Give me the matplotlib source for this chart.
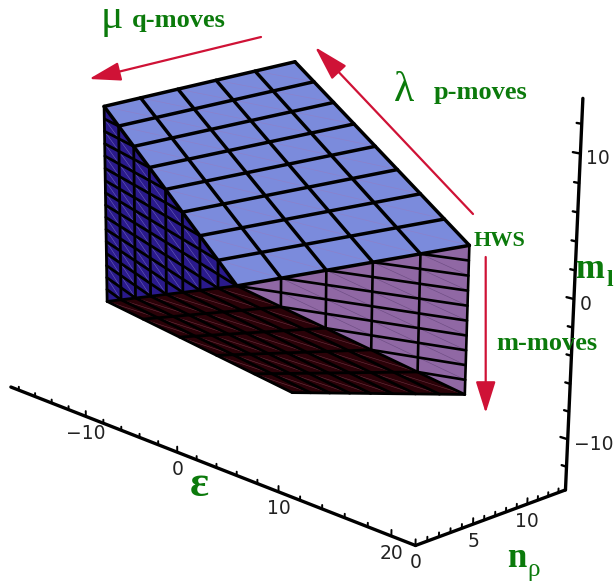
import numpy as np
import matplotlib
matplotlib.use("Agg")
import matplotlib.pyplot as plt
from matplotlib.patches import Polygon

# SU(3) multiplet (lambda, mu) shown in (epsilon, n_rho, m_l) space
LAM = 8
MU = 5
A_MIN = MU
A_MAX = MU + LAM
B_MIN = 0
B_MAX = MU

eps_majors = [-10, 0, 10, 20]
eps_minors = [-18, -16, -14, -12, -8, -6, -4, -2, 2, 4, 6, 8, 12, 14, 16, 18]
nrho_majors = [0, 5, 10]
nrho_minors = [1, 2, 3, 4, 6, 7, 8, 9, 11, 12, 13]
ml_majors = [-10, 0, 10]
ml_minors = [-12, -8, -6, -4, -2, 2, 4, 6, 8, 12]
EPS_BOX = (-19.0, 22.0)
NRHO_BOX = (0.0, 13.7)
ML_BOX = (-13.7, 13.7)

# Camera calibration: known (eps, nrho, ml) positions and where they sit on the page
calib_world = [(-18, 8, 8), (-3, 13, 13), (21, 5, 5), (6, 0, 0), (-18, 8, -8), (21, 5, -5), (-3, 13, -13),
               (-18, 0, -13.7), (-10, 0, -13.7), (0, 0, -13.7), (10, 0, -13.7), (20, 0, -13.7), (22, 0, -13.7),
               (22, 5, -13.7), (22, 10, -13.7), (22, 13.7, -13.7),
               (22, 13.7, -10), (22, 13.7, 0), (22, 13.7, 10), (22, 13.7, 12), (22, 13.7, 13.7)]
calib_page = [(104, 107), (295, 61), (471, 247), (238, 287), (108, 302), (466, 396), (293, 393),
              (18.3, 389.5), (85, 415.8), (176.7, 451.8), (277.7, 491.3), (390.7, 535.5), (415, 545),
              (474, 523.6), (528, 504), (565, 490.7),
              (567.3, 439.3), (573.6, 299.3), (580.2, 152.7), (581.0, 122.7), (581.8, 98)]


def fit_camera(world, page):
    rows = []
    for (x, y, z), (u, v) in zip(world, page):
        rows.append([x, y, z, 1, 0, 0, 0, 0, -u * x, -u * y, -u * z, -u])
        rows.append([0, 0, 0, 0, x, y, z, 1, -v * x, -v * y, -v * z, -v])
    _, _, vt = np.linalg.svd(np.array(rows, float))
    return vt[-1].reshape(3, 4)


CAM = fit_camera(calib_world, calib_page)


def proj(e, n, m):
    h = CAM @ np.array([e, n, m, 1.0])
    return h[0] / h[2], h[1] / h[2]


def eps_of(a, b):
    return 36 - 3 * (a + b)


def pt(a, b, m):
    return proj(eps_of(a, b), a - b, m)


fig = plt.figure(figsize=(6.15, 5.83), dpi=100)
ax = fig.add_axes([0, 0, 1, 1])
ax.set_xlim(0, 615)
ax.set_ylim(583, 0)
ax.axis("off")

TOP = "#7b8bdc"
LEFT = "#2a1a8c"
RIGHT = "#9068a4"
BOTTOM = "#2a0208"


def seg(p, q, lw=2.0, color="black", z=3):
    ax.plot([p[0], q[0]], [p[1], q[1]], color=color, lw=lw, solid_capstyle="round", zorder=z)


# left face: b = B_MAX
ax.add_patch(Polygon([pt(A_MAX, B_MAX, A_MAX - B_MAX), pt(A_MIN, B_MAX, 0), pt(A_MAX, B_MAX, -(A_MAX - B_MAX))],
                     closed=True, fc=LEFT, ec="none", zorder=1))
for a in range(A_MIN, A_MAX):
    for m in range(-(a - B_MAX) - 1, a - B_MAX + 1):
        if abs(m) <= a - B_MAX and abs(m + 1) <= a + 1 - B_MAX:
            seg(pt(a + 1, B_MAX, m + 1), pt(a, B_MAX, m), lw=0.4, color="#6a60b8", z=2)
for a in range(A_MIN + 1, A_MAX + 1):
    seg(pt(a, B_MAX, a - B_MAX), pt(a, B_MAX, -(a - B_MAX)), lw=2.0)
for m in range(-(A_MAX - B_MAX) + 1, A_MAX - B_MAX):
    seg(pt(A_MAX, B_MAX, m), pt(B_MAX + abs(m), B_MAX, m), lw=2.0)

# right face: a = A_MIN
ax.add_patch(Polygon([pt(A_MIN, B_MIN, A_MIN), pt(A_MIN, B_MAX, 0), pt(A_MIN, B_MIN, -A_MIN)],
                     closed=True, fc=RIGHT, ec="none", zorder=1))
for b in range(B_MIN, B_MAX):
    for m in range(-(A_MIN - b), A_MIN - b):
        if abs(m + 1) <= A_MIN - b - 1:
            seg(pt(A_MIN, b + 1, m + 1), pt(A_MIN, b, m), lw=0.4, color="#6a4a80", z=2)
for b in range(B_MIN, B_MAX):
    seg(pt(A_MIN, b, A_MIN - b), pt(A_MIN, b, -(A_MIN - b)), lw=1.9)
for m in range(-A_MIN + 1, A_MIN):
    seg(pt(A_MIN, B_MIN, m), pt(A_MIN, A_MIN - abs(m), m), lw=1.9)

# bottom face: m = -(a - b)
ax.add_patch(Polygon([pt(A_MIN, B_MAX, 0), pt(A_MAX, B_MAX, -(A_MAX - B_MAX)), pt(A_MAX, B_MIN, -(A_MAX - B_MIN)),
                      pt(A_MIN, B_MIN, -(A_MIN - B_MIN))], closed=True, fc=BOTTOM, ec="none", zorder=4))
for a in range(A_MIN, A_MAX):
    for b in range(B_MIN, B_MAX):
        seg(pt(a + 1, b + 1, -(a - b)), pt(a, b, -(a - b)), lw=0.4, color="#6a3040", z=5)
for a in range(A_MIN, A_MAX + 1):
    seg(pt(a, B_MIN, -(a - B_MIN)), pt(a, B_MAX, -(a - B_MAX)), lw=2.0, z=6)
for b in range(B_MIN, B_MAX + 1):
    seg(pt(A_MIN, b, -(A_MIN - b)), pt(A_MAX, b, -(A_MAX - b)), lw=2.0, z=6)

# top face: m = a - b
ax.add_patch(Polygon([pt(A_MIN, B_MIN, A_MIN), pt(A_MAX, B_MIN, A_MAX), pt(A_MAX, B_MAX, A_MAX - B_MAX),
                      pt(A_MIN, B_MAX, 0)], closed=True, fc=TOP, ec="none", zorder=7))
for a in range(A_MIN, A_MAX):
    for b in range(B_MIN, B_MAX):
        seg(pt(a + 1, b + 1, a - b), pt(a, b, a - b), lw=0.4, color="#8f80c8", z=8)
for a in range(A_MIN, A_MAX + 1):
    seg(pt(a, B_MIN, a - B_MIN), pt(a, B_MAX, a - B_MAX), lw=2.5, z=9)
for b in range(B_MIN, B_MAX + 1):
    seg(pt(A_MIN, b, A_MIN - b), pt(A_MAX, b, A_MAX - b), lw=2.5, z=9)

# box axes
E0, E1 = EPS_BOX
N0, N1 = NRHO_BOX
M0, M1 = ML_BOX
AXW = 2.4
seg(proj(E0, N0, M0), proj(E1, N0, M0), lw=AXW)
seg(proj(E1, N0, M0), proj(E1, N1, M0), lw=AXW)
seg(proj(E1, N1, M0), proj(E1, N1, M1), lw=AXW)

TL = "#222222"
for e in eps_majors + eps_minors:
    L = 0.42 if e in eps_majors else 0.28
    seg(proj(e, N0, M0), proj(e, N0, M0 + L), lw=1.4)
for n in nrho_majors + nrho_minors:
    L = 0.42 if n in nrho_majors else 0.3
    seg(proj(E1, n, M0), proj(E1, n, M0 + L), lw=1.4)
for m in ml_majors + ml_minors:
    L = 0.6 if m in ml_majors else 0.4
    seg(proj(E1, N1, m), proj(E1 - L, N1, m), lw=1.7)

for e in eps_majors:
    x, y = proj(e, N0, M0)
    ax.text(x, y + 17, str(e).replace("-", "\u2212"), ha="center", va="center", fontsize=13.5, color=TL)
for n in nrho_majors:
    x, y = proj(E1, n, M0)
    ax.text(x, y + 17, str(n), ha="center", va="center", fontsize=13.5, color=TL)
for m in ml_majors:
    x, y = proj(E1, N1, m)
    ax.text(x + 6, y + 5, str(m).replace("-", "\u2212"), ha="left", va="center", fontsize=13.5, color=TL)

# annotation texts
G = "#0b7a0b"
SERIF = "Liberation Serif"
bold = dict(family=SERIF, weight="bold", color=G, ha="left", va="baseline", zorder=12)
plain = dict(family=SERIF, color=G, ha="left", va="baseline", zorder=12)
ax.text(132, 27, "q-moves", fontsize=19, **bold)
ax.text(434, 99, "p-moves", fontsize=19, **bold)
ax.text(496, 350, "m-moves", fontsize=19, **bold)
ax.text(474, 246, "HWS", fontsize=16, **bold)
ax.text(101, 28, "\u03bc", fontsize=30, **plain)
ax.text(394, 101, "\u03bb", fontsize=30, **plain)
ax.text(190, 496, "\u03b5", fontsize=32, **bold)
ax.text(575, 278, "m", fontsize=25, **bold)
ax.text(607, 286, "l", fontsize=17, **bold)
ax.text(507, 567, "n", fontsize=25, **bold)
ax.text(527, 576, "\u03c1", fontsize=18, **plain)

# move arrows
RED = "#cf1236"
arrows = [((261, 37), (89, 79), 27, 8), ((473, 214), (315, 47), 30, 8.5), ((485.7, 257), (485.7, 413), 27, 8.5)]
for tail, tip, hl, hw in arrows:
    ax.annotate("", xy=tip, xytext=tail, zorder=11,
                arrowprops=dict(arrowstyle=f"-|>,head_length={hl * 0.72},head_width={hw * 0.72}",
                                color=RED, lw=1.6, shrinkA=0, shrinkB=0, mutation_scale=1))

fig.savefig("out.png", dpi=100)
